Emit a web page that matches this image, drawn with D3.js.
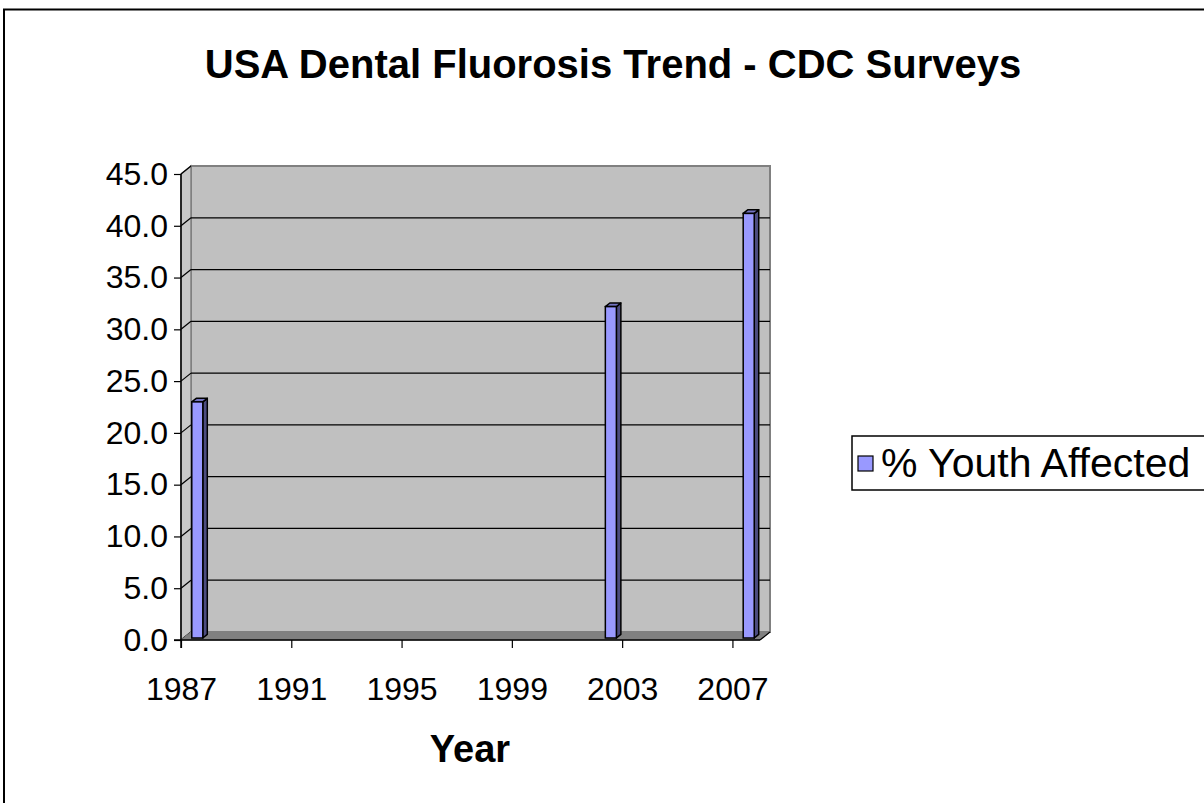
<!DOCTYPE html>
<html>
<head>
<meta charset="utf-8">
<script src="https://cdn.jsdelivr.net/npm/d3@7"></script>
<style>
  html, body { margin: 0; padding: 0; background: #fff; }
  svg { display: block; }
  text { font-family: Arial, "Liberation Sans", sans-serif; }
</style>
</head>
<body>
<svg id="chart" width="1204" height="803"></svg>
<script>
// ---- data ----
const seriesName = "% Youth Affected";
const years = [1987, 2002, 2007];
const values = [22.8, 32.0, 41.0];
const yTicks = [0, 5, 10, 15, 20, 25, 30, 35, 40, 45];
const xTicks = [1987, 1991, 1995, 1999, 2003, 2007];
const titleText = "USA Dental Fluorosis Trend - CDC Surveys";
const xAxisTitle = "Year";

// ---- layout ----
const svg = d3.select("#chart");
const W = 1204, H = 803;
const DX = 10, DY = -8;          // depth offset of the 3D box
const x = d3.scaleLinear().domain([1987, 2008]).range([181, 760]);
const y = d3.scaleLinear().domain([0, 45]).range([640, 174]);
const x0 = x.range()[0], x1 = x.range()[1];
const yb = y(0), yt = y(45);

// outer chart border
svg.append("rect").attr("x", 4).attr("y", 9.5).attr("width", W + 20).attr("height", H + 20)
  .attr("fill", "#fff").attr("stroke", "#000").attr("stroke-width", 2);

// title
svg.append("text").attr("x", 613).attr("y", 78).attr("text-anchor", "middle")
  .attr("font-size", 40).attr("font-weight", "bold").text(titleText);

const g = svg.append("g");

// back wall
g.append("rect").attr("x", x0 + DX).attr("y", yt + DY)
  .attr("width", x1 - x0).attr("height", yb - yt)
  .attr("fill", "#c0c0c0").attr("stroke", "#808080").attr("stroke-width", 2);

// side wall
g.append("path")
  .attr("d", `M${x0},${yt} L${x0 + DX},${yt + DY} L${x0 + DX},${yb + DY} L${x0},${yb} Z`)
  .attr("fill", "#c8c8c8").attr("stroke", "#808080").attr("stroke-width", 1.5);

// gridlines (back wall + side wall)
const grid = g.append("g");
yTicks.filter(t => t > 0 && t < 45).forEach(t => {
  grid.append("line").attr("x1", x0 + DX).attr("x2", x1 + DX)
    .attr("y1", y(t) + DY).attr("y2", y(t) + DY)
    .attr("stroke", "#000").attr("stroke-width", 1.2);
});
yTicks.forEach(t => {
  grid.append("line").attr("x1", x0).attr("y1", y(t))
    .attr("x2", x0 + DX).attr("y2", y(t) + DY)
    .attr("stroke", "#000").attr("stroke-width", 1.2);
});

// floor
g.append("path")
  .attr("d", `M${x0},${yb} L${x1},${yb} L${x1 + DX},${yb + DY} L${x0 + DX},${yb + DY} Z`)
  .attr("fill", "#808080").attr("stroke", "#808080").attr("stroke-width", 1);

// bars (3D columns)
const slot = x(1988) - x(1987);
const bw = slot * 0.4;
const f0 = 0.25, f1 = 0.7;    // depth fraction of front/back faces
const bdx = (f1 - f0) * DX, bdy = (f1 - f0) * DY;
const bars = g.selectAll("g.bar").data(years.map((yr, i) => ({ yr, v: values[i] })))
  .enter().append("g").attr("class", "bar");
bars.each(function(d) {
  const sel = d3.select(this);
  const left = x(d.yr) + slot / 2 - bw / 2 + f0 * DX;
  const right = left + bw;
  const bot = yb + f0 * DY;
  const top = y(d.v) + f0 * DY;
  sel.append("path")
    .attr("d", `M${right},${bot} L${right + bdx},${bot + bdy} L${right + bdx},${top + bdy} L${right},${top} Z`)
    .attr("fill", "#4c4c80").attr("stroke", "#000").attr("stroke-width", 1.5).attr("stroke-linejoin", "round");
  sel.append("path")
    .attr("d", `M${left},${top} L${right},${top} L${right + bdx},${top + bdy} L${left + bdx},${top + bdy} Z`)
    .attr("fill", "#7373bf").attr("stroke", "#000").attr("stroke-width", 1.5).attr("stroke-linejoin", "round");
  sel.append("rect").attr("x", left).attr("y", top).attr("width", bw).attr("height", bot - top)
    .attr("fill", "#9999ff").attr("stroke", "#000").attr("stroke-width", 1.5);
});

// axes
const yAxis = d3.axisLeft(y).tickValues(yTicks).tickFormat(d3.format(".1f")).tickSize(7).tickPadding(6);
const ya = svg.append("g").attr("transform", `translate(${x0},0)`).call(yAxis);
ya.select(".domain").remove();
ya.selectAll(".tick line").attr("stroke", "#000").attr("stroke-width", 1.2);
ya.selectAll(".tick text").attr("font-size", 32).attr("fill", "#000")
  .attr("font-family", "Arial, 'Liberation Sans', sans-serif");

const xAxis = d3.axisBottom(x).tickValues(xTicks).tickFormat(d3.format("d")).tickSize(8).tickPadding(29);
const xa = svg.append("g").attr("transform", `translate(0,${yb})`).call(xAxis);
xa.select(".domain").remove();
xa.selectAll(".tick line").attr("stroke", "#000").attr("stroke-width", 1.2);
xa.selectAll(".tick text").attr("font-size", 32).attr("fill", "#000")
  .attr("font-family", "Arial, 'Liberation Sans', sans-serif");

// axis lines
svg.append("line").attr("x1", x0).attr("x2", x0).attr("y1", yt).attr("y2", yb + 8)
  .attr("stroke", "#000").attr("stroke-width", 1.5);
svg.append("line").attr("x1", x0 - 7).attr("x2", x1).attr("y1", yb).attr("y2", yb)
  .attr("stroke", "#000").attr("stroke-width", 1.5);
svg.append("line").attr("x1", x1).attr("x2", x1 + DX).attr("y1", yb).attr("y2", yb + DY)
  .attr("stroke", "#000").attr("stroke-width", 1.2);

// x axis title
svg.append("text").attr("x", 470).attr("y", 762).attr("text-anchor", "middle")
  .attr("font-size", 38).attr("font-weight", "bold").text(xAxisTitle);

// legend
const lg = svg.append("g");
lg.append("rect").attr("x", 852).attr("y", 436).attr("width", 400).attr("height", 54)
  .attr("fill", "#fff").attr("stroke", "#000").attr("stroke-width", 1.5);
lg.append("rect").attr("x", 858).attr("y", 456).attr("width", 15).attr("height", 15)
  .attr("fill", "#9999ff").attr("stroke", "#000").attr("stroke-width", 1.2);
lg.append("text").attr("x", 881).attr("y", 477).attr("font-size", 41).text(seriesName);
</script>
</body>
</html>
